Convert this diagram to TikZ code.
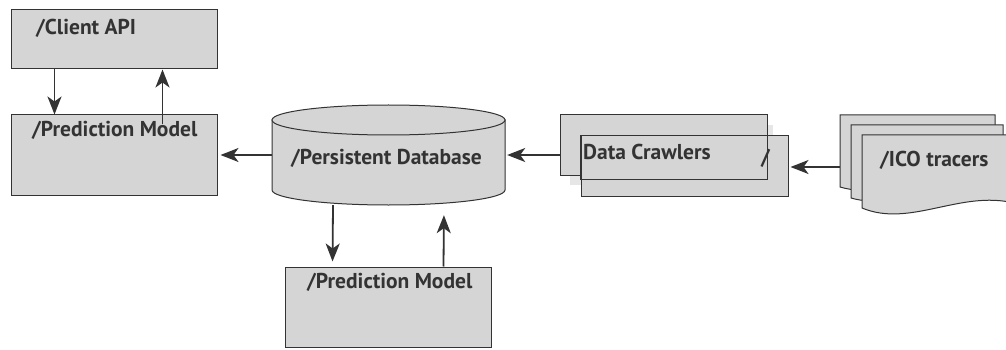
\documentclass[tikz,border=0pt]{standalone}
\usepackage{fontspec}
\setmainfont{PT Sans}
\usetikzlibrary{arrows.meta}
\definecolor{boxgray}{HTML}{D5D5D5}
\definecolor{shadegray}{HTML}{E6E6E6}
\definecolor{inkgray}{HTML}{333333}
\begin{document}
\begin{tikzpicture}[x=1pt, y=-1pt,
    box/.style={draw=inkgray, fill=boxgray, line width=1pt, inner sep=0pt},
    ghost/.style={inner sep=0pt},
    label/.style={text=inkgray, font=\bfseries\fontsize{21.5}{24}\selectfont, inner sep=0pt, anchor=west},
    page/.style={draw=inkgray, fill=boxgray, line width=1pt},
    flow/.style={draw=inkgray, line width=1.8pt, -{Stealth[length=18pt, width=14pt, inset=5pt]}}]
    \useasboundingbox (0,0) rectangle (1006,350);

    % boxes
    \node [box, minimum width=206, minimum height=59] (client) at (114,39.5) {};
    \node [box, minimum width=206, minimum height=80] (predL) at (114,155) {};
    \node [box, minimum width=206, minimum height=80] (predB) at (388,307) {};

    \node [label] (clientlabel) at (36,28) {/Client API};
    \node [label] (predLlabel) at (32,130) {/Prediction Model};
    \node [label] (predBlabel) at (307,282) {/Prediction Model};

    % database
    \node [ghost, minimum width=233, minimum height=100] (db) at (388.5,155) {};
    \filldraw [page]
        (272,120) -- (272,190) arc [start angle=180, end angle=0, x radius=116.5, y radius=15]
        -- (505,120) -- cycle;
    \draw [page] (388.5,120) ellipse [x radius=116.5, y radius=15];
    \node [label] (dblabel) at (291,158) {/Persistent Database};

    % crawlers
    \fill [shadegray] (570,125) rectangle (773,185);
    \node [box, minimum width=207, minimum height=60] (crawlback) at (663.5,145) {};
    \node [box, minimum width=207, minimum height=60] (crawlers) at (684.5,166) {};
    \draw [inkgray, line width=1pt] (crawlers.north west) rectangle (767,179);
    \node [label] (crawlerslabel) at (583,152) {Data Crawlers};
    \node [label] (crawlersslash) at (761,158) {/};

    % tracers
    \node [ghost, minimum width=166, minimum height=99] (ico) at (923,164.5) {};
    \filldraw [page] (840,115) -- (995,115) -- (995,182)
        .. controls (941,162) and (891,202) .. (840,187) -- cycle;
    \filldraw [page] (851,125) -- (1003,125) -- (1003,192)
        .. controls (949,172) and (899,212) .. (851,198) -- cycle;
    \filldraw [page] (862,135) -- (1014,135) -- (1014,203)
        .. controls (960,190) and (910,228) .. (862,208) -- cycle;
    \node [label] (icolabel) at (880,160) {/ICO tracers};

    % arrows
    \draw [flow] ([xshift=44pt]client.south west) -- ([xshift=44pt]predL.north west);
    \draw [flow] ([xshift=152pt,yshift=-10pt]predL.north west) -- ([xshift=152pt]client.south west);
    \draw [flow, shorten >=3pt] (db.west) -- (predL.east);
    \draw [flow, shorten >=2pt] (crawlback.west |- db) -- (db.east);
    \draw [flow, shorten >=2pt] (ico.west |- 0,167) -- (crawlers.east |- 0,167);
    \draw [flow, shorten >=5pt] ([xshift=-55.5pt]db.south) -- ([xshift=48pt]predB.north west);
    \draw [flow, shorten >=10pt] ([xshift=159pt]predB.north west) -- ([xshift=55.5pt]db.south);
\end{tikzpicture}
\end{document}
